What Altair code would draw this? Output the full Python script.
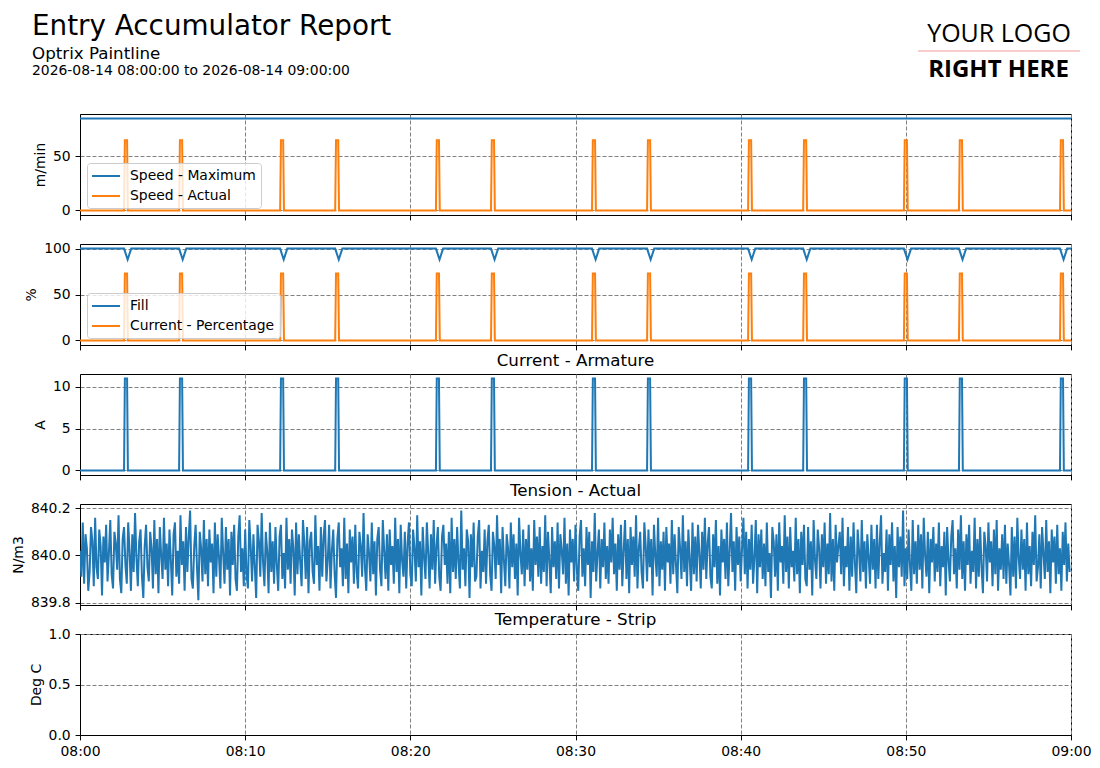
import altair as alt
import pandas as pd

BLUE = "#1f77b4"
ORANGE = "#ff7f0e"
FONT = "DejaVu Sans"

REPORT_TITLE = "Entry Accumulator Report"
REPORT_SUBTITLE = "Optrix Paintline"
REPORT_RANGE = "2026-08-14 08:00:00 to 2026-08-14 09:00:00"
LOGO_TOP = "YOUR LOGO"
LOGO_BOTTOM = "RIGHT HERE"

DAY = "2026-08-14"
RANGE_START = "08:00:00"
RANGE_END = "09:00:00"
X_TICKS = ["08:00", "08:10", "08:20", "08:30", "08:40", "08:50", "09:00"]

# pulse events (start times)
PULSE_STARTS = ["08:02:40", "08:06:00", "08:12:07", "08:15:27", "08:21:33", "08:24:53",
                "08:31:00", "08:34:20", "08:40:27", "08:43:47", "08:49:53", "08:53:13",
                "08:59:20"]
PULSE_OFFSETS_S = [0, 3, 11, 14]

SPEED_SERIES = ["Speed - Maximum", "Speed - Actual"]
SPEED_MAX = 85
SPEED_ACTUAL_PULSE = [0, 65, 65, 0]

FILL_SERIES = ["Fill", "Current - Percentage"]
FILL_BASE = 100
FILL_OFFSETS_S = [0, 13, 26]
FILL_DIP = [100, 88, 100]
CURRENT_PCT_PULSE = [0, 73, 73, 0]

ARMATURE_PULSE = [0, 11, 11, 0]

TENSION_STEP_S = 5
TENSION = [
    840.02, 839.91, 840.14, 839.88, 840.09, 840.03, 839.85, 839.93, 840.12, 840.06, 839.87, 840.16, 839.95, 839.90, 840.11, 840.04, 839.83, 840.08, 839.97, 840.13, 839.89, 840.01, 840.15, 839.92,
    839.86, 840.10, 840.05, 839.94, 840.17, 839.90, 839.84, 840.07, 840.12, 839.96, 839.88, 840.14, 840.02, 839.85, 840.09, 839.93, 840.18, 839.99, 839.87, 840.06, 840.11, 839.91, 839.82, 840.04,
    840.13, 839.95, 839.89, 840.10, 840.03, 839.86, 840.15, 839.92, 840.07, 839.84, 840.12, 840.00, 839.90, 840.16, 839.94, 840.05, 839.87, 840.11, 839.98, 839.83, 840.09, 840.14, 839.91, 840.02,
    839.88, 840.17, 839.96, 840.06, 839.85, 840.12, 839.93, 840.08, 840.19, 839.90, 839.86, 840.04, 840.13, 839.95, 839.81, 840.10, 840.03, 839.89, 840.15, 839.92, 840.07, 839.87, 840.11, 839.97,
    840.05, 839.84, 840.14, 839.91, 840.09, 839.99, 839.86, 840.16, 840.01, 839.88, 840.12, 839.94, 840.07, 839.83, 840.10, 839.96, 840.13, 839.90, 839.85, 840.08, 840.17, 839.93, 840.03, 839.87,
    840.11, 839.92, 839.86, 840.15, 840.04, 839.89, 840.09, 839.95, 839.82, 840.13, 840.06, 839.91, 840.18, 839.97, 839.87, 840.10, 840.02, 839.84, 840.14, 839.93, 840.06, 839.88, 840.12, 839.96,
    839.85, 840.08, 840.13, 839.90, 840.01, 839.86, 840.16, 839.94, 840.07, 839.88, 840.11, 840.03, 839.83, 840.14, 839.92, 840.09, 839.97, 839.87, 840.15, 840.05, 839.90, 840.12, 839.84, 840.06,
    840.10, 839.93, 839.88, 840.17, 839.96, 840.04, 839.85, 840.12, 839.91, 840.08, 840.15, 839.89, 839.98, 840.13, 839.86, 840.02, 840.11, 839.92, 839.82, 840.07, 840.14, 839.95, 840.03, 839.87,
    840.16, 839.90, 840.05, 839.84, 840.11, 839.97, 840.08, 839.88, 840.13, 839.93, 839.86, 840.10, 840.04, 839.91, 840.18, 839.95, 839.85, 840.09, 840.01, 839.89, 840.14, 839.92, 840.06, 839.83,
    840.07, 840.12, 839.94, 839.87, 840.15, 840.02, 839.90, 840.09, 839.85, 840.11, 839.96, 840.04, 839.88, 840.16, 839.93, 840.07, 839.84, 840.13, 839.98, 839.91, 840.10, 839.86, 840.05, 840.14,
    839.92, 839.87, 840.11, 840.03, 839.89, 840.17, 839.95, 840.06, 839.83, 840.12, 839.99, 839.90, 840.14, 840.01, 839.86, 840.09, 839.94, 840.15, 839.88, 840.04, 840.12, 839.91, 839.85, 840.08,
    840.13, 839.96, 840.05, 839.88, 840.10, 839.84, 840.16, 839.93, 840.07, 839.90, 840.12, 839.97, 839.86, 840.19, 839.94, 840.03, 839.87, 840.11, 840.06, 839.82, 840.09, 839.95, 840.14, 839.89,
    839.91, 840.08, 840.15, 839.86, 840.02, 839.93, 840.11, 839.88, 840.06, 840.13, 839.92, 839.85, 840.10, 840.04, 839.90, 840.17, 839.96, 840.07, 839.84, 840.12, 839.98, 839.87, 840.09, 840.03,
    839.86, 840.14, 839.95, 840.09, 839.90, 840.05, 839.83, 840.16, 840.01, 839.92, 840.11, 839.87, 840.07, 839.94, 840.13, 839.89, 840.03, 839.85, 840.15, 839.96, 840.08, 839.91, 840.12, 839.88,
    840.04, 839.93, 840.17, 839.87, 840.10, 839.98, 839.84, 840.12, 839.95, 840.06, 839.90, 840.14, 839.86, 840.09, 840.02, 839.92, 840.16, 839.88, 840.05, 839.83, 840.11, 839.97, 840.07, 839.89,
    840.13, 839.94, 839.85, 840.08, 840.15, 839.91, 840.03, 839.87, 840.12, 839.96, 840.10, 839.82, 840.06, 839.93, 840.18, 839.89, 840.01, 840.11, 839.86, 840.07, 839.95, 840.14, 839.90, 840.04,
    839.88, 840.11, 839.97, 840.16, 839.92, 840.05, 839.85, 840.09, 839.94, 840.13, 839.87, 840.02, 840.15, 839.90, 840.07, 839.84, 840.12, 839.96, 840.08, 839.91, 840.17, 839.86, 840.03, 840.10,
    839.93, 839.86, 840.14, 840.04, 839.89, 840.11, 839.95, 840.07, 839.83, 840.13, 840.00, 839.91, 840.16, 839.87, 840.06, 839.94, 840.10, 839.85, 840.12, 839.97, 840.05, 839.88, 840.15, 839.92,
    840.09, 839.96, 839.84, 840.12, 840.03, 839.90, 840.17, 839.93, 840.06, 839.87, 840.11, 839.98, 839.85, 840.14, 839.92, 840.08, 839.89, 840.13, 840.01, 839.86, 840.10, 839.94, 840.16, 839.90,
    840.05, 840.12, 839.91, 839.86, 840.09, 839.95, 840.15, 839.88, 840.04, 839.83, 840.11, 839.97, 840.07, 839.90, 840.14, 839.87, 840.02, 840.18, 839.93, 840.06, 839.85, 840.12, 839.96, 840.08,
    839.89, 840.03, 840.16, 839.92, 840.10, 839.86, 840.07, 839.94, 840.13, 839.88, 839.99, 840.15, 839.84, 840.09, 839.95, 840.11, 839.90, 840.05, 839.87, 840.14, 839.93, 840.01, 839.82, 840.12,
    840.06, 839.91, 840.09, 839.85, 840.14, 839.97, 840.04, 839.88, 840.17, 839.93, 840.08, 839.86, 840.12, 839.95, 840.02, 839.89, 840.16, 839.92, 840.07, 839.84, 840.10, 839.96, 840.13, 839.90,
    839.87, 840.12, 839.94, 840.06, 839.83, 840.15, 839.98, 839.90, 840.11, 840.03, 839.86, 840.09, 839.95, 840.14, 839.88, 840.05, 839.92, 840.18, 839.89, 840.07, 839.85, 840.13, 839.97, 840.04,
    840.10, 839.92, 840.16, 839.87, 840.04, 839.95, 840.12, 839.85, 840.08, 839.91, 840.14, 839.97, 839.84, 840.11, 840.02, 839.89, 840.15, 839.93, 840.06, 839.86, 840.09, 839.99, 839.88, 840.13,
    839.94, 840.07, 839.86, 840.13, 839.90, 840.05, 840.17, 839.88, 840.01, 839.93, 840.11, 839.85, 840.09, 839.96, 840.14, 839.89, 840.04, 839.82, 840.12, 839.95, 840.08, 839.91, 840.19, 839.87,
    840.03, 839.90, 840.11, 839.96, 839.85, 840.15, 839.92, 840.06, 839.88, 840.13, 839.94, 840.09, 839.86, 840.16, 840.00, 839.91, 840.10, 839.84, 840.07, 839.97, 840.12, 839.89, 840.05, 839.93,
    840.14, 839.87, 840.04, 839.95, 840.10, 839.83, 840.12, 839.98, 839.89, 840.08, 840.15, 839.92, 840.03, 839.86, 840.11, 839.94, 840.17, 839.90, 840.06, 839.85, 840.09, 839.96, 840.13, 839.88,
    840.02, 839.93, 840.16, 839.86, 840.07, 839.91, 840.12, 839.95, 839.84, 840.10, 840.04, 839.89, 840.14, 839.97, 840.06, 839.87, 840.11, 839.92, 840.15, 839.85, 840.03, 839.94, 840.09, 839.90,
    840.13, 839.88, 840.05, 839.96, 839.83, 840.12, 839.91, 840.08, 839.86, 840.16, 839.99, 839.90, 840.11, 839.94, 840.07, 839.85, 840.14, 839.92, 840.04, 839.87, 840.10, 839.96, 840.17, 839.89,
    839.95, 840.09, 839.86, 840.12, 840.01, 839.90, 840.15, 839.93, 840.06, 839.84, 840.11, 839.97, 840.08, 839.88, 840.13, 839.92, 840.03, 839.85, 840.10, 839.96, 840.14, 839.89, 840.05, 839.93,
]

# ---------------------------------------------------------------- data tables
T0 = pd.Timestamp(f"{DAY} {RANGE_START}")
T1 = pd.Timestamp(f"{DAY} {RANGE_END}")


def iso(ts):
    return ts.strftime("%Y-%m-%dT%H:%M:%S")


def event_rows(series, offsets, values, baseline):
    rows = [{"t": iso(T0), "v": baseline, "s": series}]
    for start in PULSE_STARTS:
        ts = pd.Timestamp(f"{DAY} {start}")
        for off, val in zip(offsets, values):
            rows.append({"t": iso(ts + pd.Timedelta(seconds=off)), "v": val, "s": series})
    rows.append({"t": iso(T1), "v": baseline, "s": series})
    return rows


speed_df = pd.DataFrame(
    [{"t": iso(T0), "v": SPEED_MAX, "s": SPEED_SERIES[0]},
     {"t": iso(T1), "v": SPEED_MAX, "s": SPEED_SERIES[0]}]
    + event_rows(SPEED_SERIES[1], PULSE_OFFSETS_S, SPEED_ACTUAL_PULSE, 0)
)
fill_df = pd.DataFrame(
    event_rows(FILL_SERIES[0], FILL_OFFSETS_S, FILL_DIP, FILL_BASE)
    + event_rows(FILL_SERIES[1], PULSE_OFFSETS_S, CURRENT_PCT_PULSE, 0)
)
arm_df = pd.DataFrame(event_rows("Current - Armature", PULSE_OFFSETS_S, ARMATURE_PULSE, 0))
tension_df = pd.DataFrame({
    "t": [iso(T0 + pd.Timedelta(seconds=i * TENSION_STEP_S)) for i in range(len(TENSION))],
    "v": TENSION,
})
temp_df = pd.DataFrame({"t": pd.Series([], dtype=str), "v": pd.Series([], dtype=float)})

# ---------------------------------------------------------------- layout
W = 991
H = 101


def dt(hhmm):
    h, m = hhmm.split(":")
    return alt.DateTime(year=2026, month=8, date=14, hours=int(h), minutes=int(m))


X_SCALE = alt.Scale(domain=[dt("08:00"), dt("09:00")], nice=False)


def x_enc(show_labels):
    axis = alt.Axis(values=[dt(v) for v in X_TICKS], format="%H:%M", title=None,
                    labels=show_labels, labelFlush=False, labelOverlap=False)
    return alt.X("t:T", scale=X_SCALE, axis=axis)


def y_enc(title, domain, ticks, fmt=None):
    kw = dict(values=ticks, title=title, labelOverlap=False)
    if fmt:
        kw["format"] = fmt
    return alt.Y("v:Q", scale=alt.Scale(domain=domain, nice=False, zero=False), axis=alt.Axis(**kw))


def legend():
    return alt.Legend(
        title=None, orient="none", legendX=7, legendY=49, direction="vertical",
        symbolType="M-2,0L2,0", symbolSize=196, symbolStrokeWidth=2, symbolOffset=6,
        labelOffset=16, rowPadding=5, padding=5,
        fillColor="rgba(255,255,255,0.8)", strokeColor="#cccccc", cornerRadius=3,
        labelFont=FONT, labelFontSize=13.9, labelColor="black",
    )


def panel_title(text, dy):
    return alt.TitleParams(text=text, font=FONT, fontSize=16.7, fontWeight="normal",
                           color="black", anchor="middle", offset=5, dy=dy)


line = dict(strokeWidth=2, clip=True)

p1 = alt.Chart(speed_df).mark_line(**line).encode(
    x=x_enc(False),
    y=y_enc("m/min", [-4.25, 89.25], [0, 50]),
    color=alt.Color("s:N", scale=alt.Scale(domain=SPEED_SERIES, range=[BLUE, ORANGE]), legend=legend()),
).properties(width=W, height=H)

p2 = alt.Chart(fill_df).mark_line(**line).encode(
    x=x_enc(False),
    y=y_enc("%", [-5, 105], [0, 50, 100]),
    color=alt.Color("s:N", scale=alt.Scale(domain=FILL_SERIES, range=[BLUE, ORANGE]), legend=legend()),
).properties(width=W, height=H)

p3 = alt.Chart(arm_df).mark_line(color=BLUE, **line).encode(
    x=x_enc(False),
    y=y_enc("A", [-0.55, 11.55], [0, 5, 10]),
).properties(width=W, height=H, title=panel_title("Current - Armature", 1))

p4 = alt.Chart(tension_df).mark_line(color=BLUE, **line).encode(
    x=x_enc(False),
    y=y_enc("N/m3", [839.79, 840.218], [839.8, 840.0, 840.2], ".1f"),
).properties(width=W, height=H, title=panel_title("Tension - Actual", 3))

p5 = alt.Chart(temp_df).mark_line(color=BLUE, **line).encode(
    x=x_enc(True),
    y=y_enc("Deg C", [0, 1], [0, 0.5, 1.0], ".1f"),
).properties(width=W, height=H, title=panel_title("Temperature - Strip", 7))

# ---------------------------------------------------------------- header
def header_text(text, x, y, size, align="left", font=FONT, weight="normal"):
    return alt.Chart(pd.DataFrame({"txt": [text]})).mark_text(
        align=align, baseline="alphabetic", font=font, fontSize=size, fontWeight=weight, color="black"
    ).encode(text="txt:N", x=alt.value(x), y=alt.value(y))


logo_line = alt.Chart(pd.DataFrame({"k": [0]})).mark_rule(color="#f19a9a", strokeWidth=1).encode(
    x=alt.value(838), x2=alt.value(1000), y=alt.value(42)
)

header = alt.layer(
    header_text(REPORT_TITLE, -48, 25.5, 27.8),
    header_text(REPORT_SUBTITLE, -48, 50, 16.7),
    header_text(REPORT_RANGE, -48, 66, 13.9),
    header_text(LOGO_TOP, 919, 32.5, 25, align="center", font="Open Sans"),
    logo_line,
    header_text(LOGO_BOTTOM, 918.5, 68, 24, align="center", font="Open Sans", weight="bold"),
).properties(width=W, height=76, view=alt.ViewBackground(stroke="transparent"))

chart = alt.vconcat(
    header, p1, p2, p3, p4, p5, spacing=29, bounds="flush",
    padding={"left": 2, "top": 0, "right": 0, "bottom": 0},
).resolve_scale(color="independent").resolve_legend(color="independent").configure(
    font=FONT
).configure_view(
    stroke="black", strokeWidth=1
).configure_axis(
    labelFont=FONT, labelFontSize=13.9, labelColor="black", labelPadding=4.9,
    titleFont=FONT, titleFontSize=13.9, titleFontWeight="normal", titleColor="black", titlePadding=5,
    tickColor="black", tickSize=4.9, tickWidth=1, domainColor="black", domainWidth=1,
    grid=True, gridColor="#808080", gridDash=[4, 2], gridWidth=1, zindex=1,
)

chart.save("out.html", embed_options={"renderer": "svg", "actions": False})
